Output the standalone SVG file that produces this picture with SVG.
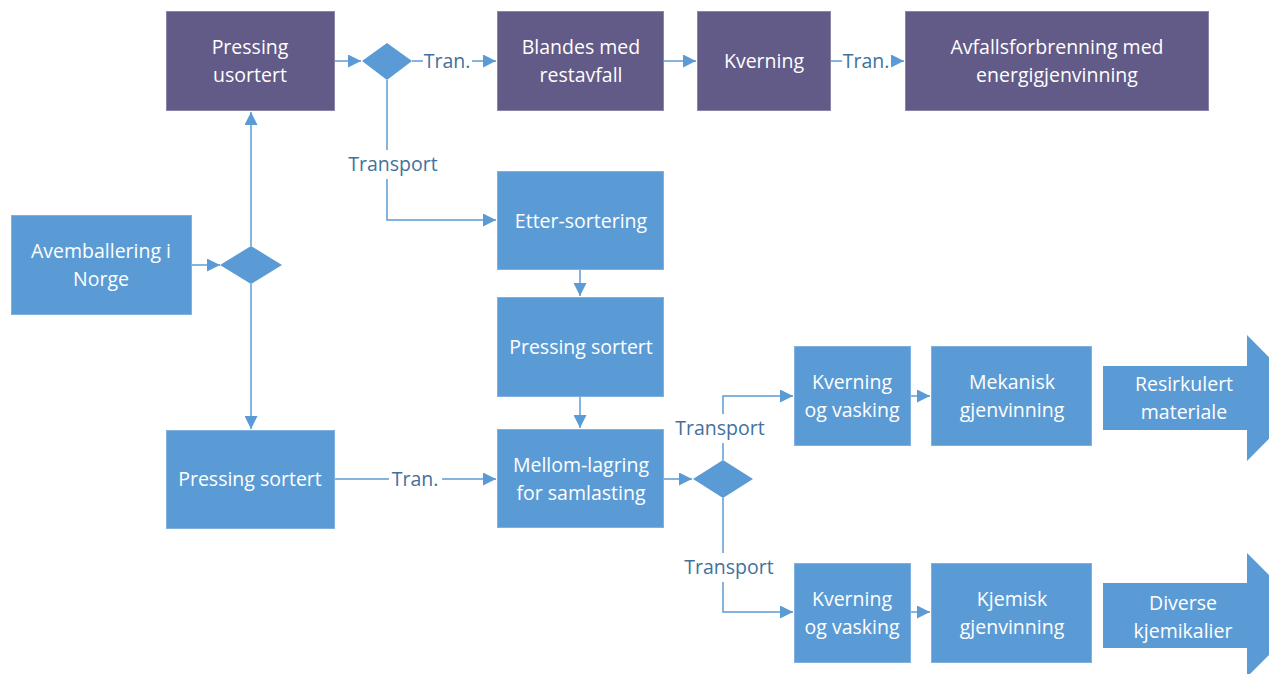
<svg xmlns="http://www.w3.org/2000/svg" width="1269" height="674" viewBox="0 0 1269 674">
<defs>
<style>
.p{fill:#625A87;stroke:#8A86A8;stroke-width:1}
.b{fill:#5B9BD5;stroke:#7FB0DE;stroke-width:1}
.d{fill:#5B9BD5}
.t{font-family:"Open Sans","Liberation Sans",sans-serif;font-size:19.5px;fill:#FFFFFF;text-anchor:middle}
.l{font-family:"Open Sans","Liberation Sans",sans-serif;font-size:19.5px;fill:#41719C;text-anchor:middle}
.c{fill:none;stroke:#5B9BD5;stroke-width:1.5}
</style>
<marker id="ah" viewBox="0 0 10 10" refX="10" refY="5" markerWidth="13" markerHeight="13" markerUnits="userSpaceOnUse" orient="auto"><path d="M0,0 L10,5 L0,10 z" fill="#5B9BD5"/></marker>
</defs>
<rect width="1269" height="674" fill="#FFFFFF"/>
<g id="connectors">
<path class="c" d="M191,265 L220,265" marker-end="url(#ah)"/>
<path class="c" d="M251,246 L251,112" marker-end="url(#ah)"/>
<path class="c" d="M251,284 L251,429" marker-end="url(#ah)"/>
<path class="c" d="M335,61 L361,61" marker-end="url(#ah)"/>
<path class="c" d="M412,61 L423,61"/>
<path class="c" d="M472,61 L496,61" marker-end="url(#ah)"/>
<path class="c" d="M664,61 L696,61" marker-end="url(#ah)"/>
<path class="c" d="M831,61 L842,61"/>
<path class="c" d="M891,61 L904,61" marker-end="url(#ah)"/>
<path class="c" d="M387,80 L387,150"/>
<path class="c" d="M387,179 L387,220 L496,220" marker-end="url(#ah)"/>
<path class="c" d="M580,270 L580,296" marker-end="url(#ah)"/>
<path class="c" d="M580,397 L580,428" marker-end="url(#ah)"/>
<path class="c" d="M335,479 L389,479"/>
<path class="c" d="M442,479 L496,479" marker-end="url(#ah)"/>
<path class="c" d="M664,479 L692,479" marker-end="url(#ah)"/>
<path class="c" d="M723,460 L723,443"/>
<path class="c" d="M723,414 L723,396 L793,396" marker-end="url(#ah)"/>
<path class="c" d="M723,498 L723,553"/>
<path class="c" d="M723,582 L723,612 L793,612" marker-end="url(#ah)"/>
<path class="c" d="M911,396 L930,396" marker-end="url(#ah)"/>
<path class="c" d="M911,612 L930,612" marker-end="url(#ah)"/>
<text class="l" x="447" y="68">Tran.</text>
<text class="l" x="866" y="68">Tran.</text>
<text class="l" x="393" y="171">Transport</text>
<text class="l" x="415" y="486">Tran.</text>
<text class="l" x="720" y="435">Transport</text>
<text class="l" x="729" y="574">Transport</text>
</g>
<g id="n-pressing-usortert"><rect class="p" x="166.5" y="11.5" width="168" height="99"/><text class="t" x="250" y="54">Pressing</text><text class="t" x="250" y="82">usortert</text></g>
<g id="n-dec1"><path class="d" d="M362,61 L387,43 L412,61 L387,80 z"/></g>
<g id="n-blandes"><rect class="p" x="497.5" y="11.5" width="166" height="99"/><text class="t" x="581" y="54">Blandes med</text><text class="t" x="581" y="82">restavfall</text></g>
<g id="n-kverning-top"><rect class="p" x="697.5" y="11.5" width="133" height="99"/><text class="t" x="764" y="68">Kverning</text></g>
<g id="n-avfall"><rect class="p" x="905.5" y="11.5" width="303" height="99"/><text class="t" x="1057" y="54">Avfallsforbrenning med</text><text class="t" x="1057" y="82">energigjenvinning</text></g>
<g id="n-avemballering"><rect class="b" x="11.5" y="215.5" width="180" height="99"/><text class="t" x="101" y="258">Avemballering i</text><text class="t" x="101" y="286">Norge</text></g>
<g id="n-dec2"><path class="d" d="M220,265 L251,246 L282,265 L251,284 z"/></g>
<g id="n-etter"><rect class="b" x="497.5" y="171.5" width="166" height="98"/><text class="t" x="581" y="228">Etter-sortering</text></g>
<g id="n-pressing-sortert-mid"><rect class="b" x="497.5" y="297.5" width="166" height="99"/><text class="t" x="581" y="354">Pressing sortert</text></g>
<g id="n-pressing-sortert-left"><rect class="b" x="166.5" y="430.5" width="168" height="98"/><text class="t" x="250" y="486">Pressing sortert</text></g>
<g id="n-mellom"><rect class="b" x="497.5" y="429.5" width="166" height="98"/><text class="t" x="581" y="472">Mellom-lagring</text><text class="t" x="581" y="500">for samlasting</text></g>
<g id="n-dec3"><path class="d" d="M693,479 L723,460 L753,479 L723,498 z"/></g>
<g id="n-kverning-upper"><rect class="b" x="794.5" y="346.5" width="116" height="99"/><text class="t" x="852" y="389">Kverning</text><text class="t" x="852" y="417">og vasking</text></g>
<g id="n-mekanisk"><rect class="b" x="931.5" y="346.5" width="160" height="99"/><text class="t" x="1012" y="389">Mekanisk</text><text class="t" x="1012" y="417">gjenvinning</text></g>
<g id="n-resirkulert"><path class="d" d="M1103,366 L1247,366 L1247,335 L1309,398 L1247,461 L1247,430 L1103,430 z"/><text class="t" x="1184" y="391">Resirkulert</text><text class="t" x="1184" y="419">materiale</text></g>
<g id="n-kverning-lower"><rect class="b" x="794.5" y="563.5" width="116" height="99"/><text class="t" x="852" y="606">Kverning</text><text class="t" x="852" y="634">og vasking</text></g>
<g id="n-kjemisk"><rect class="b" x="931.5" y="563.5" width="160" height="99"/><text class="t" x="1012" y="606">Kjemisk</text><text class="t" x="1012" y="634">gjenvinning</text></g>
<g id="n-diverse"><path class="d" d="M1103,583 L1247,583 L1247,553 L1309,615 L1247,677 L1247,648 L1103,648 z"/><text class="t" x="1183" y="610">Diverse</text><text class="t" x="1183" y="638">kjemikalier</text></g>
</svg>
